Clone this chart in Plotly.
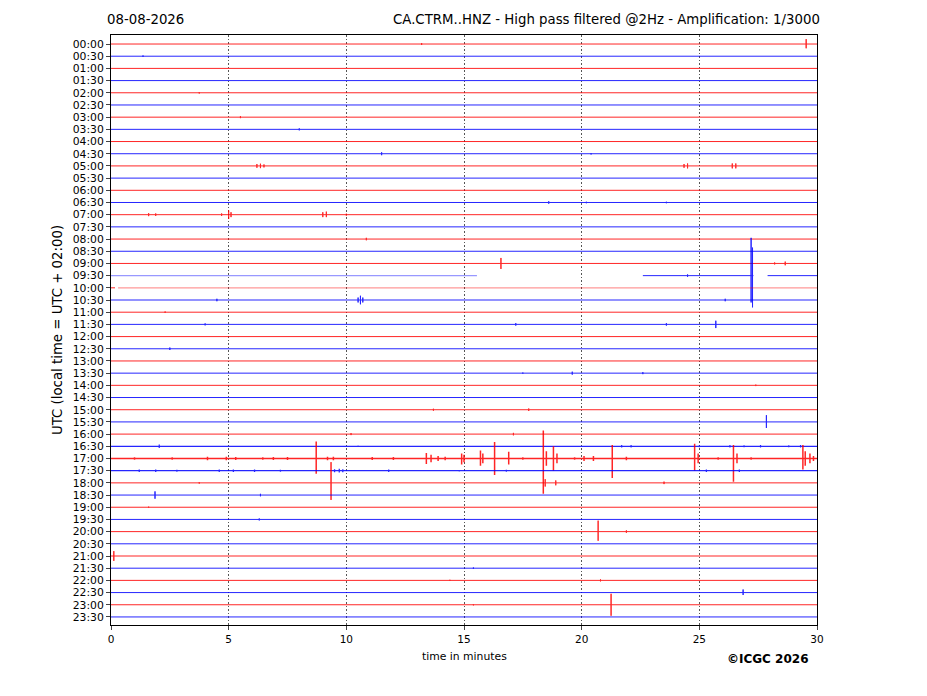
import plotly.graph_objects as go

# half-hour row labels (local rows, top to bottom)
row_labels = [
    "00:00", "00:30", "01:00", "01:30", "02:00", "02:30", "03:00", "03:30",
    "04:00", "04:30", "05:00", "05:30", "06:00", "06:30", "07:00", "07:30",
    "08:00", "08:30", "09:00", "09:30", "10:00", "10:30", "11:00", "11:30",
    "12:00", "12:30", "13:00", "13:30", "14:00", "14:30", "15:00", "15:30",
    "16:00", "16:30", "17:00", "17:30", "18:00", "18:30", "19:00", "19:30",
    "20:00", "20:30", "21:00", "21:30", "22:00", "22:30", "23:00", "23:30",
]
x_ticks = [0, 5, 10, 15, 20, 25, 30]

# recorded stretches per row (minutes); rows not listed are complete 0-30
segments = {
    19: [(0, 15.55), (22.6, 27.3), (27.9, 30)],
    20: [(0, 0.17), (0.3, 30)],
}
faint = [(19, 0, 15.55), (20, 0.3, 30)]

# events: (row, minute, amplitude up, amplitude down) in units of row spacing
events = [
    (0, 13.2, 0.08, 0.08), (0, 29.54, 0.4, 0.35),
    (1, 1.36, 0.06, 0.06),
    (4, 3.75, 0.06, 0.06),
    (6, 5.5, 0.08, 0.08),
    (7, 8.0, 0.08, 0.08),
    (9, 11.5, 0.12, 0.12), (9, 20.4, 0.06, 0.06),
    (10, 6.2, 0.15, 0.15), (10, 6.35, 0.18, 0.18), (10, 6.5, 0.12, 0.12),
    (10, 24.35, 0.15, 0.15), (10, 24.5, 0.2, 0.2),
    (10, 26.4, 0.2, 0.2), (10, 26.55, 0.2, 0.2),
    (13, 18.6, 0.1, 0.1), (13, 20.2, 0.06, 0.06), (13, 23.6, 0.06, 0.06),
    (14, 1.6, 0.12, 0.12), (14, 1.9, 0.1, 0.1), (14, 4.7, 0.1, 0.1),
    (14, 5.0, 0.35, 0.35), (14, 5.1, 0.2, 0.2), (14, 9.0, 0.2, 0.2),
    (14, 9.15, 0.25, 0.2), (14, 10.0, 0.08, 0.08),
    (16, 10.85, 0.1, 0.1),
    (18, 16.57, 0.45, 0.45), (18, 28.2, 0.08, 0.08), (18, 28.65, 0.15, 0.15),
    (19, 24.5, 0.1, 0.1), (19, 27.2, 3.1, 2.2), (19, 27.26, 2.3, 2.6),
    (21, 4.5, 0.1, 0.1), (21, 10.5, 0.2, 0.2), (21, 10.6, 0.35, 0.35),
    (21, 10.7, 0.2, 0.2), (21, 26.1, 0.1, 0.1),
    (22, 2.3, 0.06, 0.06),
    (23, 4.0, 0.08, 0.08), (23, 17.2, 0.1, 0.1), (23, 23.6, 0.1, 0.1),
    (23, 25.7, 0.3, 0.3),
    (25, 2.5, 0.1, 0.1),
    (27, 17.5, 0.05, 0.05), (27, 19.6, 0.12, 0.12), (27, 22.6, 0.08, 0.08),
    (28, 27.4, 0.06, 0.06),
    (30, 13.7, 0.08, 0.08), (30, 17.75, 0.1, 0.1),
    (31, 27.85, 0.55, 0.5),
    (32, 10.2, 0.08, 0.08), (32, 17.1, 0.1, 0.1),
    (33, 2.05, 0.15, 0.15), (33, 10.5, 0.06, 0.06), (33, 21.7, 0.1, 0.1),
    (33, 22.1, 0.1, 0.1), (33, 25.0, 0.08, 0.08), (33, 26.3, 0.1, 0.1),
    (33, 26.9, 0.08, 0.08), (33, 27.6, 0.1, 0.1), (33, 28.8, 0.08, 0.08),
    (33, 29.3, 0.1, 0.1),
    (34, 1.0, 0.1, 0.1), (34, 2.6, 0.1, 0.1), (34, 4.1, 0.15, 0.15),
    (34, 4.9, 0.15, 0.15), (34, 5.3, 0.12, 0.12), (34, 6.45, 0.1, 0.1),
    (34, 6.9, 0.12, 0.12), (34, 7.5, 0.12, 0.12), (34, 8.72, 1.4, 1.25),
    (34, 9.2, 0.15, 0.15), (34, 9.45, 0.15, 0.15), (34, 11.1, 0.12, 0.12),
    (34, 12.0, 0.12, 0.12), (34, 13.4, 0.45, 0.45), (34, 13.6, 0.3, 0.3),
    (34, 13.9, 0.2, 0.2), (34, 14.2, 0.15, 0.15), (34, 14.9, 0.4, 0.5),
    (34, 15.0, 0.3, 0.3), (34, 15.7, 0.65, 0.6), (34, 15.8, 0.4, 0.4),
    (34, 16.3, 1.35, 1.35), (34, 16.9, 0.55, 0.5), (34, 17.5, 0.1, 0.1),
    (34, 18.37, 2.3, 2.9), (34, 18.5, 0.6, 0.6), (34, 18.8, 1.0, 1.0),
    (34, 18.95, 0.4, 0.4), (34, 19.7, 0.1, 0.1), (34, 20.1, 0.2, 0.2),
    (34, 20.5, 0.2, 0.2), (34, 21.3, 1.1, 1.6), (34, 21.9, 0.15, 0.15),
    (34, 24.8, 1.2, 1.0), (34, 24.95, 0.4, 0.4), (34, 25.8, 0.1, 0.1),
    (34, 26.45, 1.1, 1.9), (34, 26.6, 0.4, 0.4), (34, 27.2, 0.1, 0.1),
    (34, 29.4, 1.1, 0.9), (34, 29.5, 0.6, 0.6), (34, 29.7, 0.4, 0.4),
    (34, 29.85, 0.2, 0.2),
    (35, 1.2, 0.1, 0.1), (35, 1.9, 0.1, 0.1), (35, 2.8, 0.08, 0.08),
    (35, 4.6, 0.1, 0.1), (35, 5.2, 0.1, 0.1), (35, 6.1, 0.1, 0.1),
    (35, 7.2, 0.08, 0.08), (35, 9.5, 0.12, 0.12), (35, 9.7, 0.15, 0.15),
    (35, 9.85, 0.12, 0.12), (35, 11.8, 0.1, 0.1), (35, 14.8, 0.06, 0.06),
    (35, 16.8, 0.08, 0.08), (35, 25.3, 0.1, 0.1), (35, 26.7, 0.1, 0.1),
    (36, 3.75, 0.06, 0.06), (36, 9.35, 1.7, 1.4), (36, 18.45, 0.3, 0.3),
    (36, 18.9, 0.2, 0.2), (36, 23.5, 0.1, 0.1),
    (37, 1.87, 0.3, 0.3), (37, 6.35, 0.1, 0.1),
    (38, 1.6, 0.05, 0.05),
    (39, 6.3, 0.08, 0.08),
    (40, 20.7, 0.9, 0.75), (40, 21.9, 0.1, 0.1),
    (42, 0.12, 0.4, 0.4),
    (43, 15.4, 0.06, 0.06),
    (44, 14.4, 0.05, 0.05), (44, 20.8, 0.08, 0.08),
    (45, 26.86, 0.25, 0.2),
    (46, 15.4, 0.05, 0.05), (46, 21.25, 0.9, 0.9),
]

RED = "#ff0000"
BLUE = "#0000ff"
# noisier rows get a slightly heavier baseline
row_width = {33: 1.2, 34: 1.5, 35: 1.3}


def row_path(row, stretches):
    xs, ys = [], []
    row_events = sorted([e for e in events if e[0] == row], key=lambda e: e[1])
    for start, end in stretches:
        xs.append(start)
        ys.append(row)
        for _, m, up, down in row_events:
            if start <= m <= end:
                xs += [m, m, m, m]
                ys += [row, row - up, row + down, row]
        xs += [end, None]
        ys += [row, None]
    return xs, ys


fig = go.Figure()

for i, label in enumerate(row_labels):
    color = RED if i % 2 == 0 else BLUE
    stretches = segments.get(i, [(0, 30)])
    solid = [s for s in stretches if (i, s[0], s[1]) not in faint]
    light = [s for s in stretches if (i, s[0], s[1]) in faint]
    if solid:
        xs, ys = row_path(i, solid)
        fig.add_trace(go.Scatter(x=xs, y=ys, mode="lines", hoverinfo="skip", opacity=0.85,
                                 line=dict(color=color, width=row_width.get(i, 1.0))))
    if light:
        xs, ys = row_path(i, light)
        fig.add_trace(go.Scatter(x=xs, y=ys, mode="lines", hoverinfo="skip", opacity=0.4,
                                 line=dict(color=color, width=1.3)))

fig.update_layout(
    width=919,
    height=688,
    margin=dict(l=103, r=110, t=27, b=71),
    plot_bgcolor="white",
    paper_bgcolor="white",
    font=dict(family="DejaVu Sans", size=11, color="black"),
    showlegend=False,
    xaxis=dict(
        range=[0, 30], tickvals=x_ticks, ticks="outside", ticklen=4,
        showgrid=True, gridcolor="#555555", griddash="1.5px,2px", gridwidth=0.8,
        zeroline=False, showline=True, mirror=True, linecolor="black", linewidth=1,
        tickfont=dict(size=10.5),
    ),
    yaxis=dict(
        range=[47.66, -0.74], tickvals=list(range(len(row_labels))), ticktext=row_labels,
        ticks="outside", ticklen=4, showgrid=False, zeroline=False,
        showline=True, mirror=True, linecolor="black", linewidth=1,
        tickfont=dict(size=10.8),
    ),
    annotations=[
        dict(text="08-08-2026", xref="paper", yref="paper", x=-0.0085, y=1.026,
             xanchor="left", yanchor="middle", showarrow=False, font=dict(size=13.3)),
        dict(text="CA.CTRM..HNZ - High pass filtered @2Hz - Amplification: 1/3000",
             xref="paper", yref="paper", x=1.007, y=1.026, xanchor="right",
             yanchor="middle", showarrow=False, font=dict(size=13.3)),
        dict(text="UTC (local time = UTC + 02:00)", xref="paper", yref="paper",
             x=-0.0765, y=0.5, textangle=-90, xanchor="center", yanchor="middle",
             showarrow=False, font=dict(size=13.3)),
        dict(text="time in minutes", xref="paper", yref="paper", x=0.5, y=-0.054,
             xanchor="center", yanchor="middle", showarrow=False, font=dict(size=10.8)),
        dict(text="<b>©ICGC 2026</b>", xref="paper", yref="paper", x=0.9915, y=-0.0576,
             xanchor="right", yanchor="middle", showarrow=False, font=dict(size=12)),
    ],
)

fig.write_html("out.html")
